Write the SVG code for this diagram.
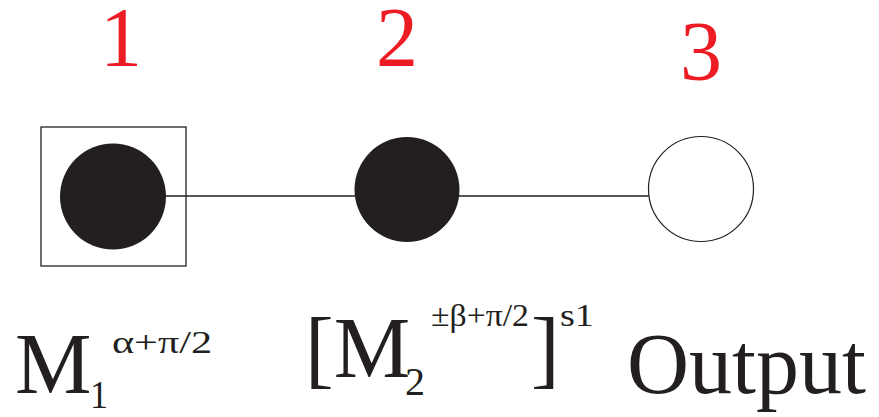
<svg xmlns="http://www.w3.org/2000/svg" width="879" height="417" viewBox="0 0 879 417">
<style>
.num{font-family:"Liberation Serif","Times New Roman",serif;fill:#ed1c24;font-size:84px;text-anchor:middle}
.lab{font-family:"Liberation Serif","Times New Roman",serif;fill:#231f20}
.big{font-size:86px}
.sub{font-size:40px}
.sup{font-size:31px}
.edge{stroke:#231f20;stroke-width:1.3;fill:none}
</style>
<rect width="879" height="417" fill="#ffffff"/>
<g id="connectors">
<line class="edge" x1="160" y1="196" x2="660" y2="196"/>
</g>
<g id="node1">
<rect x="41" y="127" width="145" height="139" fill="none" stroke="#231f20" stroke-width="1.3"/>
<circle cx="113" cy="196.5" r="53" fill="#231f20"/>
<text class="num" x="121" y="66">1</text>
<g class="lab">
<text class="big" x="15" y="393">M</text>
<text class="sub" x="90" y="408" textLength="18" lengthAdjust="spacingAndGlyphs">1</text>
<text class="sup" x="112" y="353" textLength="100" lengthAdjust="spacingAndGlyphs">α+π/2</text>
</g>
</g>
<g id="node2">
<circle cx="407" cy="189.5" r="52.5" fill="#231f20"/>
<text class="num" x="397" y="66">2</text>
<g class="lab">
<text class="big" x="305" y="377">[M</text>
<text class="sub" x="405" y="395" textLength="20" lengthAdjust="spacingAndGlyphs">2</text>
<text class="sup" x="431" y="326" textLength="98" lengthAdjust="spacingAndGlyphs">±β+π/2</text>
<text class="big" x="531" y="377">]</text>
<text class="sup" x="560" y="326" textLength="34" lengthAdjust="spacingAndGlyphs">s1</text>
</g>
</g>
<g id="node3">
<circle cx="701" cy="189" r="52.5" fill="#ffffff" stroke="#231f20" stroke-width="1.2"/>
<text class="num" x="701" y="80">3</text>
<text class="lab big" x="627" y="393">Output</text>
</g>
</svg>
